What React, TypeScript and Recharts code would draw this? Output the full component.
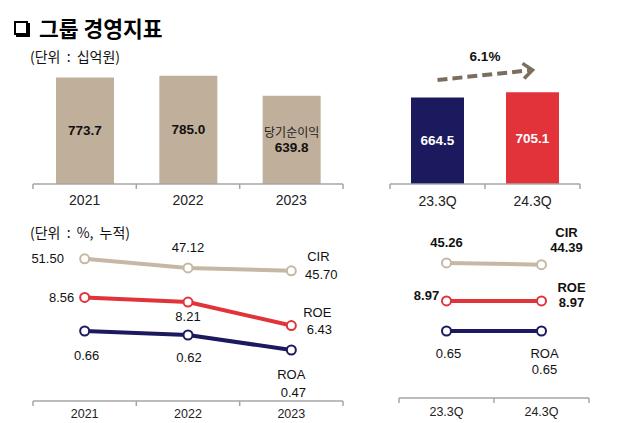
import { BarChart, ComposedChart, Bar, Line, XAxis, YAxis, LabelList, ReferenceLine, Cell } from "recharts";

const FONT = "'Liberation Sans', Arial, 'Noto Sans CJK KR', sans-serif";
const KFONT = "'Noto Sans CJK KR', 'Liberation Sans', sans-serif";

const AXIS = "#a6a6a6";
const BEIGE = "#c0af9a";
const BEIGE_LINE = "#c7b8a5";
const NAVY = "#1b1a5f";
const RED = "#e2323a";
const ARROW = "#7b6e5f";

// 당기순이익 (십억원)
const years = ["2021", "2022", "2023"];
const netIncomeYears = [773.7, 785.0, 639.8];
const barCaptions = ["", "", "당기순이익"];
const quarters = ["23.3Q", "24.3Q"];
const netIncomeQuarters = [664.5, 705.1];
const growthLabel = "6.1%";

// 비율 (%, 누적)
const seriesNames = ["CIR", "ROE", "ROA"];
const cirYears = [51.5, 47.12, 45.7];
const roeYears = [8.56, 8.21, 6.43];
const roaYears = [0.66, 0.62, 0.47];
const cirQuarters = [45.26, 44.39];
const roeQuarters = [8.97, 8.97];
const roaQuarters = [0.65, 0.65];

const yearBars = years.map((name, i) => ({ name, value: netIncomeYears[i], caption: barCaptions[i] }));
const quarterBars = quarters.map((name, i) => ({ name, value: netIncomeQuarters[i], caption: "" }));
const yearRatios = years.map((name, i) => ({ name, CIR: cirYears[i], ROE: roeYears[i], ROA: roaYears[i] }));
const quarterRatios = quarters.map((name, i) => ({ name, CIR: cirQuarters[i], ROE: roeQuarters[i], ROA: roaQuarters[i] }));

const quarterColors = [NAVY, RED];
const lineColors: Record<string, string> = { CIR: BEIGE_LINE, ROE: RED, ROA: NAVY };

// each series sits in its own band of the panel
const leftDomains: Record<string, [number, number]> = { CIR: [-17, 75], ROE: [0.7, 15.2], ROA: [-0.04, 1.87] };
const rightDomains: Record<string, [number, number]> = { CIR: [-20, 70.8], ROE: [1.6, 15.87], ROA: [-0.02, 1.86] };

// label offsets [dx, dy] per point, plus the series name at the last point
const leftPos: Record<string, { pts: number[][]; name: number[]; bold: boolean }> = {
  CIR: { pts: [[-37, 0], [0, -20], [30, 4]], name: [27, -14], bold: false },
  ROE: { pts: [[-23, 0], [0, 14], [28, 4]], name: [26, -13], bold: false },
  ROA: { pts: [[2, 24], [1, 22], [2, 42]], name: [0, 24], bold: false },
};
const rightPos: Record<string, { pts: number[][]; name: number[]; bold: boolean }> = {
  CIR: { pts: [[0, -20], [25, -17]], name: [25, -32], bold: true },
  ROE: { pts: [[-20, -5], [30, 2]], name: [30, -13], bold: true },
  ROA: { pts: [[2, 22], [3, 38]], name: [3, 22], bold: false },
};

function BandTick(props: any) {
  const { x, y, payload, index, step, count, fontSize, gap } = props;
  return (
    <g>
      <line x1={x - step / 2} y1={y} x2={x - step / 2} y2={y + 5} stroke={AXIS} strokeWidth={1.5} />
      {index === count - 1 && (
        <line x1={x + step / 2} y1={y} x2={x + step / 2} y2={y + 5} stroke={AXIS} strokeWidth={1.5} />
      )}
      <text x={x} y={y + gap} textAnchor="middle" dominantBaseline="central" fontSize={fontSize} fill="#222" fontFamily={FONT}>
        {payload.value}
      </text>
    </g>
  );
}

const makeBarLabel = (data: any[], color: string) => (props: any) => {
  const vb = props.viewBox || props;
  const cx = vb.x + vb.width / 2;
  const cy = vb.y + vb.height / 2;
  const caption = data[props.index]?.caption;
  const text = Number(props.value).toFixed(1);
  if (caption) {
    return (
      <g>
        <text x={cx} y={cy - 8} textAnchor="middle" dominantBaseline="central" fontSize={12} fill="#222" fontFamily={KFONT}>
          {caption}
        </text>
        <text x={cx} y={cy + 8} textAnchor="middle" dominantBaseline="central" fontSize={13.5} fontWeight="bold" fill={color} fontFamily={FONT}>
          {text}
        </text>
      </g>
    );
  }
  return (
    <text x={cx} y={cy} textAnchor="middle" dominantBaseline="central" fontSize={13.5} fontWeight="bold" fill={color} fontFamily={FONT}>
      {text}
    </text>
  );
};

const makeLineLabel = (key: string, spec: { pts: number[][]; name: number[]; bold: boolean }, count: number) => (props: any) => {
  const vb = props.viewBox || props;
  const px = vb.x ?? props.x;
  const py = vb.y ?? props.y;
  const i = props.index;
  const [dx, dy] = spec.pts[i];
  const weight = spec.bold ? "bold" : "normal";
  return (
    <g>
      <text x={px + dx} y={py + dy} textAnchor="middle" dominantBaseline="central" fontSize={13} fontWeight={weight} fill="#111" fontFamily={FONT}>
        {Number(props.value).toFixed(2)}
      </text>
      {i === count - 1 && (
        <text x={px + spec.name[0]} y={py + spec.name[1]} textAnchor="middle" dominantBaseline="central" fontSize={13} fontWeight={weight} fill="#111" fontFamily={FONT}>
          {key}
        </text>
      )}
    </g>
  );
};

function GrowthArrow(props: any) {
  const { x1, y1, x2, y2 } = props;
  const ang = Math.atan2(y2 - y1, x2 - x1);
  const head = 12;
  const a1 = ang + Math.PI * 0.78;
  const a2 = ang - Math.PI * 0.78;
  return (
    <g>
      <line x1={x1} y1={y1} x2={x2 - 3 * Math.cos(ang)} y2={y2 - 3 * Math.sin(ang)} stroke={ARROW} strokeWidth={4} strokeDasharray="10 5" />
      <polyline
        points={`${x2 + head * Math.cos(a1)},${y2 + head * Math.sin(a1)} ${x2},${y2} ${x2 + head * Math.cos(a2)},${y2 + head * Math.sin(a2)}`}
        fill="none"
        stroke={ARROW}
        strokeWidth={3.5}
      />
      <text x={(x1 + x2) / 2} y={(y1 + y2) / 2 - 18} textAnchor="middle" dominantBaseline="central" fontSize={13.5} fontWeight="bold" fill="#111" fontFamily={FONT}>
        {growthLabel}
      </text>
    </g>
  );
}

function RatioChart(props: any) {
  const { data, domains, pos, width, height, margin, step, axisHeight, gap } = props;
  return (
    <ComposedChart width={width} height={height} data={data} margin={margin}>
      <XAxis
        dataKey="name"
        scale="band"
        height={axisHeight}
        interval={0}
        tickSize={0}
        tickMargin={0}
        tickLine={false}
        axisLine={{ stroke: AXIS, strokeWidth: 1.5 }}
        tick={<BandTick step={step} count={data.length} fontSize={12.5} gap={gap} />}
      />
      {seriesNames.map((k) => (
        <YAxis key={k} yAxisId={k} hide domain={domains[k]} allowDataOverflow />
      ))}
      {seriesNames.map((k) => (
        <Line
          key={k}
          yAxisId={k}
          dataKey={k}
          stroke={lineColors[k]}
          strokeWidth={4}
          dot={{ r: 4.5, fill: "#fff", stroke: lineColors[k], strokeWidth: 2 }}
          activeDot={false}
          isAnimationActive={false}
        >
          <LabelList dataKey={k} content={makeLineLabel(k, pos[k], data.length)} />
        </Line>
      ))}
    </ComposedChart>
  );
}

export default function App() {
  return (
    <div style={{ position: "absolute", left: 0, top: 0, width: 627, height: 423, background: "#fff", fontFamily: FONT }}>
      <div style={{ position: "absolute", left: 14, top: 15, display: "flex", alignItems: "center" }}>
        <span style={{ display: "inline-block", width: 10, height: 10, border: "2px solid #000", boxShadow: "2px 2px 0 #000", marginRight: 11 }} />
        <span style={{ fontFamily: KFONT, fontWeight: 700, fontSize: 21.5, color: "#000", lineHeight: "26px" }}>그룹 경영지표</span>
      </div>
      <div style={{ position: "absolute", left: 30, top: 46, fontFamily: KFONT, fontSize: 14, color: "#111", lineHeight: "20px", wordSpacing: 3 }}>
        (단위 : 십억원)
      </div>
      <div style={{ position: "absolute", left: 30, top: 222, fontFamily: KFONT, fontSize: 14, color: "#111", lineHeight: "20px", wordSpacing: 3 }}>
        (단위 : %, 누적)
      </div>

      <div style={{ position: "absolute", left: 0, top: 60 }}>
        <BarChart width={360} height={160} data={yearBars} margin={{ top: 0, right: 17, bottom: 6, left: 33 }}>
          <XAxis
            dataKey="name"
            height={30}
            interval={0}
            tickSize={0}
            tickMargin={0}
            tickLine={false}
            axisLine={{ stroke: AXIS, strokeWidth: 1.5 }}
            tick={<BandTick step={310 / 3} count={3} fontSize={14} gap={16} />}
          />
          <YAxis hide domain={[0, 900]} allowDataOverflow />
          <Bar dataKey="value" fill={BEIGE} barSize={58} isAnimationActive={false}>
            <LabelList dataKey="value" content={makeBarLabel(yearBars, "#111")} />
          </Bar>
        </BarChart>
      </div>

      <div style={{ position: "absolute", left: 360, top: 30 }}>
        <BarChart width={267} height={190} data={quarterBars} margin={{ top: 37, right: 47, bottom: 6, left: 30 }}>
          <XAxis
            dataKey="name"
            height={30}
            interval={0}
            tickSize={0}
            tickMargin={0}
            tickLine={false}
            axisLine={{ stroke: AXIS, strokeWidth: 1.5 }}
            tick={<BandTick step={95} count={2} fontSize={14} gap={17} />}
          />
          <YAxis hide domain={[0, 900]} allowDataOverflow />
          <Bar dataKey="value" barSize={53} isAnimationActive={false}>
            {quarterBars.map((d, i) => (
              <Cell key={d.name} fill={quarterColors[i]} />
            ))}
            <LabelList dataKey="value" content={makeBarLabel(quarterBars, "#fff")} />
          </Bar>
          <ReferenceLine
            segment={[
              { x: quarters[0], y: 800 },
              { x: quarters[1], y: 877 },
            ]}
            shape={GrowthArrow}
          />
        </BarChart>
      </div>

      <div style={{ position: "absolute", left: 0, top: 210 }}>
        <RatioChart
          data={yearRatios}
          domains={leftDomains}
          pos={leftPos}
          width={360}
          height={213}
          margin={{ top: 0, right: 17, bottom: 0, left: 33 }}
          step={310 / 3}
          axisHeight={22}
          gap={13}
        />
      </div>

      <div style={{ position: "absolute", left: 360, top: 210 }}>
        <RatioChart
          data={quarterRatios}
          domains={rightDomains}
          pos={rightPos}
          width={267}
          height={213}
          margin={{ top: 0, right: 38, bottom: 0, left: 39 }}
          step={95}
          axisHeight={25}
          gap={14}
        />
      </div>
    </div>
  );
}
